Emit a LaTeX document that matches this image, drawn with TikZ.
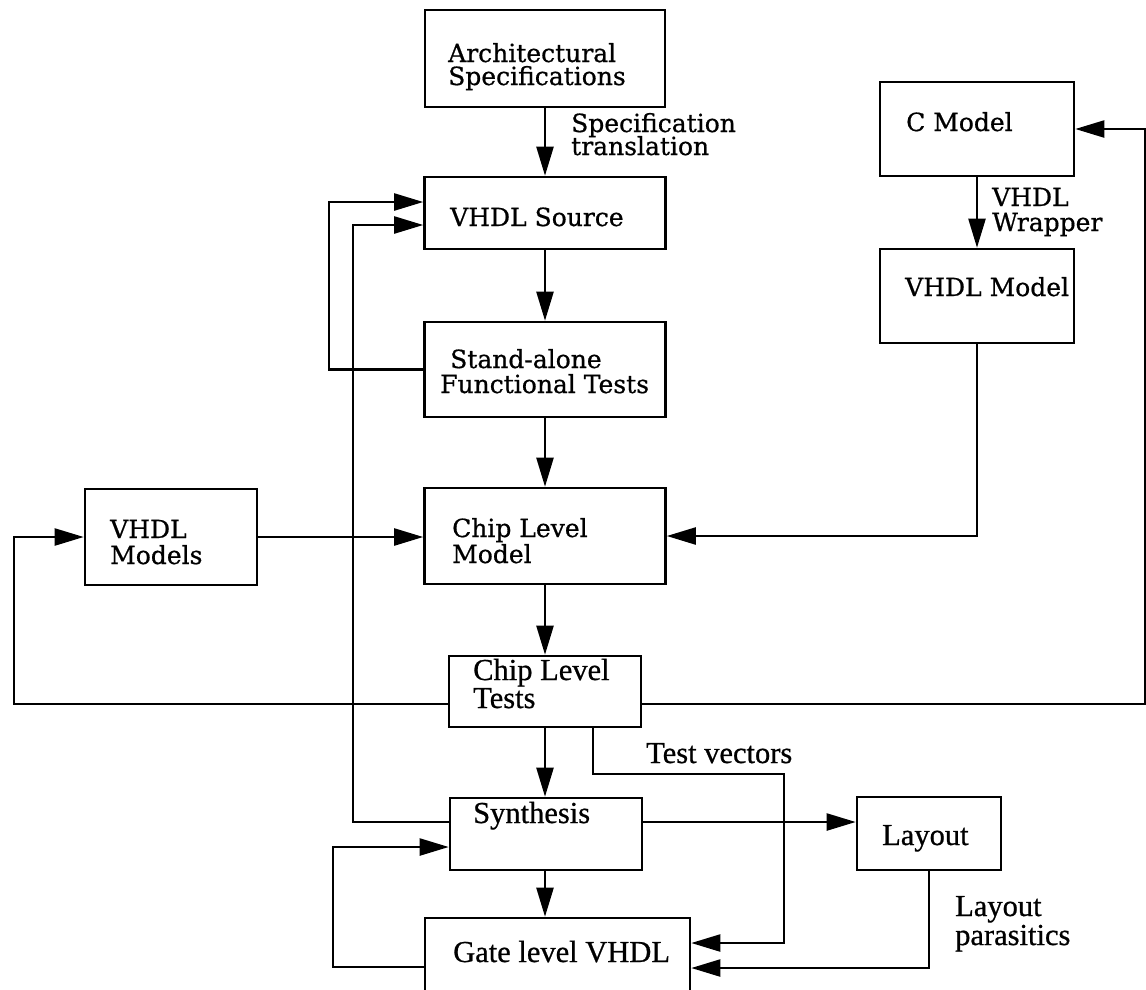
\documentclass[tikz,border=0pt]{standalone}
\usepackage{fontspec}
\setmainfont{DejaVu Serif}[FakeBold=0.7]
\newfontfamily\tms{Liberation Serif}[FakeBold=0.7]
\usetikzlibrary{arrows.meta}

\tikzset{
  box/.style={draw, line width=2.6pt, inner sep=0pt, minimum width=#1},
  bh/.style={minimum height=#1},
  lbl/.style={inner sep=0pt, anchor=base west, font=\fontsize{25}{25}\selectfont},
  tlbl/.style={inner sep=0pt, anchor=base west, font=\tms\fontsize{30.5}{30.5}\selectfont},
  arr/.style={line width=2.3pt, -{Triangle[length=29pt,width=17pt]}},
}

\begin{document}
\begin{tikzpicture}[x=1pt, y=-1pt]
  \useasboundingbox (0,0) rectangle (1146,989);
  \clip (0,0) rectangle (1146,989);

  % boxes
  \node[box=240, bh=97] (arch) at (545,58.5) {};
  \node[box=241, bh=72] (src)  at (545,213) {};
  \node[box=241, bh=95] (sa)   at (545,369.5) {};
  \node[box=241, bh=96] (clm)  at (545,536) {};
  \node[box=172, bh=96] (vms)  at (171,537) {};
  \node[box=194, bh=94] (cm)   at (977,129) {};
  \node[box=194, bh=94] (vm)   at (977,296) {};
  \node[box=192, bh=71] (clt)  at (545,691.5) {};
  \node[box=192, bh=72] (syn)  at (546,834) {};
  \node[box=144, bh=73] (lay)  at (929,833.5) {};
  \node[box=265, bh=82] (gate) at (557.5,959) {};

  % box texts
  \node[lbl] (archT1) at (448,62)  {Architectural};
  \node[lbl] (archT2) at (448,85)  {Specifications};
  \node[lbl] (srcT)   at (450,226) {VHDL Source};
  \node[lbl] (saT1)   at (450,368) {Stand-alone};
  \node[lbl] (saT2)   at (440,393) {Functional Tests};
  \node[lbl] (clmT1)  at (452,537) {Chip Level};
  \node[lbl] (clmT2)  at (452,563) {Model};
  \node[lbl] (vmsT1)  at (110,538) {VHDL};
  \node[lbl] (vmsT2)  at (110,564) {Models};
  \node[lbl] (cmT)    at (906,131) {C Model};
  \node[lbl] (vmT)    at (905,296) {VHDL Model};
  \node[tlbl] (cltT1) at (473,680) {Chip Level};
  \node[tlbl] (cltT2) at (473,708) {Tests};
  \node[tlbl] (synT)  at (473,823) {Synthesis};
  \node[tlbl] (layT)  at (882,845) {Layout};
  \node[tlbl] (gateT) at (453,962) {Gate level VHDL};

  % connector labels
  \node[lbl] (specL1) at (571,132) {Specification};
  \node[lbl] (specL2) at (571,155) {translation};
  \node[lbl] (wrapL1) at (992,206) {VHDL};
  \node[lbl] (wrapL2) at (992,231) {Wrapper};
  \node[tlbl] (tvL)   at (646,763) {Test vectors};
  \node[tlbl] (lpL1)  at (955,916) {Layout};
  \node[tlbl] (lpL2)  at (955,945) {parasitics};

  % main flow
  \draw[arr] (arch.south) -- (arch.south |- src.north);
  \draw[arr] (src.south) -- (sa.north);
  \draw[arr] (sa.south) -- (clm.north);
  \draw[arr] (clm.south) -- (clm.south |- clt.north);
  \draw[arr] (clt.south -| clm.south) -- (clm.south |- syn.north);
  \draw[arr] (syn.south -| clm.south) -- (clm.south |- gate.north);

  % feedback to the VHDL source
  \draw[arr] (sa.west) -| (329,202) -- ([yshift=11pt]src.west);
  \draw[arr] ([yshift=12pt]syn.west) -| (353,225) -- ([yshift=-12pt]src.west);

  % models into the chip level model
  \draw[arr] (vms.east) -- (vms.east -| clm.west);
  \draw[arr] (cm.south) -- (vm.north);
  \draw[arr] (vm.south) |- (clm.east);

  % chip level tests back to the models
  \draw[arr] ([yshift=-12.5pt]clt.west) -| (14,537) -- (vms.west);
  \draw[arr] ([yshift=-12.5pt]clt.east) -| (1145,129) -- (cm.east);

  % synthesis, layout and gate level
  \draw[arr] ([yshift=12pt]syn.east) -- ([yshift=12pt]syn.east -| lay.west);
  \draw[arr] ([xshift=48pt]clt.south) |- (784,774) |- ([yshift=16pt]gate.east);
  \draw[arr] (lay.south) |- ([yshift=-9pt]gate.east);
  \draw[arr] ([yshift=-8pt]gate.west) -| (333,847) -- ([yshift=-13pt]syn.west);
\end{tikzpicture}
\end{document}
